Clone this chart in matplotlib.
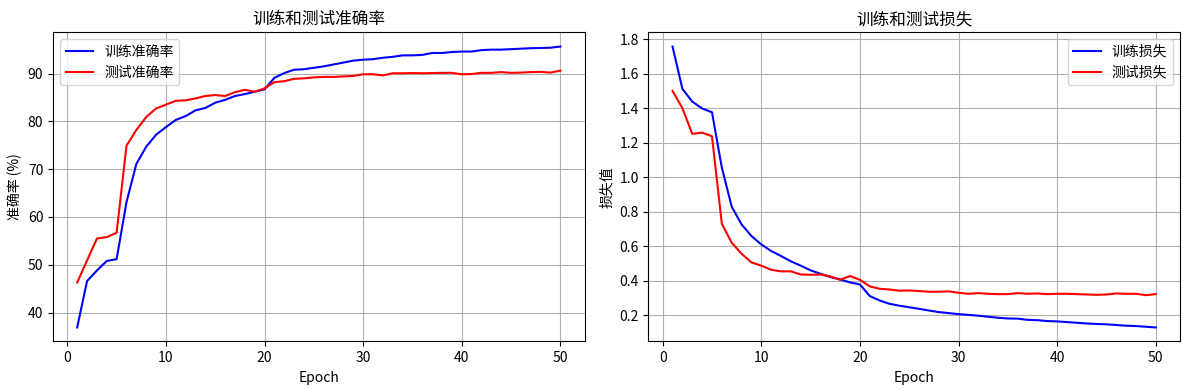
import numpy as np
import matplotlib
matplotlib.use("Agg")
import matplotlib.pyplot as plt

plt.rcParams['font.family'] = ['Noto Sans CJK SC', 'DejaVu Sans']
plt.rcParams['axes.unicode_minus'] = False

epochs = list(range(1, 51))

train_acc = [36.9, 46.6, 48.8, 50.8, 51.2, 63.1, 71.1, 74.7, 77.2, 78.8,
             80.3, 81.1, 82.3, 82.8, 83.9, 84.5, 85.3, 85.7, 86.2, 86.7,
             89.1, 90.1, 90.8, 90.9, 91.2, 91.5, 91.9, 92.3, 92.7, 92.9,
             93.0, 93.3, 93.5, 93.8, 93.8, 93.9, 94.3, 94.3, 94.5, 94.6,
             94.6, 94.9, 95.0, 95.0, 95.1, 95.2, 95.3, 95.35, 95.4, 95.65]
test_acc = [46.3, 50.9, 55.5, 55.8, 56.7, 74.9, 78.2, 80.9, 82.7, 83.5,
            84.3, 84.4, 84.8, 85.3, 85.5, 85.3, 86.1, 86.6, 86.2, 86.9,
            88.2, 88.4, 88.9, 89.0, 89.2, 89.3, 89.3, 89.4, 89.5, 89.85,
            89.85, 89.6, 90.06, 90.06, 90.1, 90.06, 90.1, 90.15, 90.15, 89.85,
            89.9, 90.15, 90.15, 90.3, 90.15, 90.2, 90.3, 90.35, 90.2, 90.6]

train_loss = [1.757, 1.512, 1.438, 1.398, 1.376, 1.055, 0.829, 0.726, 0.659, 0.610,
              0.572, 0.543, 0.512, 0.487, 0.460, 0.440, 0.421, 0.407, 0.390, 0.378,
              0.311, 0.285, 0.266, 0.255, 0.246, 0.237, 0.227, 0.218, 0.212, 0.206,
              0.202, 0.197, 0.191, 0.185, 0.181, 0.180, 0.173, 0.171, 0.166, 0.164,
              0.160, 0.156, 0.152, 0.149, 0.147, 0.143, 0.139, 0.137, 0.133, 0.129]
test_loss = [1.500, 1.400, 1.251, 1.258, 1.237, 0.730, 0.620, 0.556, 0.506, 0.487,
             0.463, 0.454, 0.454, 0.436, 0.434, 0.436, 0.425, 0.405, 0.427, 0.405,
             0.367, 0.353, 0.349, 0.342, 0.343, 0.340, 0.336, 0.336, 0.338, 0.330,
             0.324, 0.328, 0.324, 0.322, 0.322, 0.328, 0.324, 0.326, 0.322, 0.324,
             0.324, 0.322, 0.320, 0.318, 0.320, 0.326, 0.324, 0.324, 0.316, 0.322]

fig = plt.figure(figsize=(11.89, 3.9), dpi=100)
ax1 = fig.add_axes([0.0446, 0.1244, 0.4470, 0.7923])
ax2 = fig.add_axes([0.5453, 0.1244, 0.4471, 0.7923])

ax1.plot(epochs, train_acc, 'b-', label='训练准确率')
ax1.plot(epochs, test_acc, 'r-', label='测试准确率')
ax1.set_title('训练和测试准确率', fontsize=12)
ax1.set_xlabel('Epoch')
ax1.set_ylabel('准确率 (%)')
ax1.legend(loc='upper left')
ax1.grid(True)

ax2.plot(epochs, train_loss, 'b-', label='训练损失')
ax2.plot(epochs, test_loss, 'r-', label='测试损失')
ax2.set_title('训练和测试损失', fontsize=12)
ax2.set_xlabel('Epoch')
ax2.set_ylabel('损失值')
ax2.legend(loc='upper right')
ax2.grid(True)

fig.savefig('out.png', dpi=100)
